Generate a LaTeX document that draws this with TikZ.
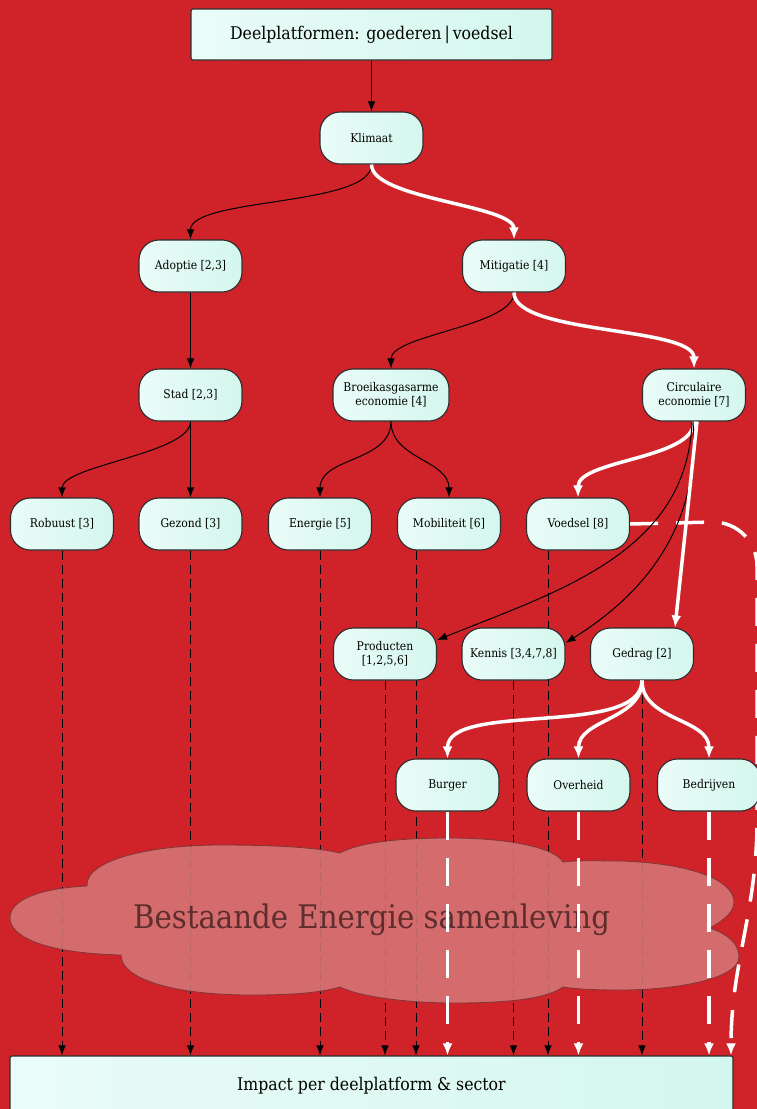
\documentclass[tikz,border=0pt]{standalone}
\usepackage{fontspec}
\setmainfont{DejaVu Serif Condensed}
\usetikzlibrary{arrows.meta, calc}

\definecolor{achtergrond}{RGB}{207,34,41}
\definecolor{mintA}{RGB}{234,252,248}
\definecolor{mintB}{RGB}{212,247,237}
\definecolor{rand}{RGB}{45,45,45}
\definecolor{wolk}{RGB}{213,118,118}
\definecolor{wolkrand}{RGB}{125,55,55}
\definecolor{wolktekst}{RGB}{95,45,45}

\pgfdeclarelayer{achter}
\pgfsetlayers{achter,main}

\tikzset{
  stap/.style={draw=rand, line width=1.1pt, rounded corners=20pt, left color=mintA, right color=mintB,
    minimum width=103pt, minimum height=52pt, align=center, font=\fontsize{12}{14}\selectfont},
  kader/.style={draw=rand, line width=1.1pt, rounded corners=2pt, left color=mintA, right color=mintB,
    font=\fontsize{17.5}{20}\selectfont},
  pijl/.style={-{Latex[length=10pt,width=7.5pt]}, line width=1pt},
  witpijl/.style={-{Latex[length=12pt,width=10pt]}, line width=3.5pt, white},
  stippel/.style={pijl, dash pattern=on 9pt off 5pt},
  witstippel/.style={witpijl, dash pattern=on 28pt off 18pt}
}

\begin{document}
\begin{tikzpicture}[x=1pt, y=-1pt]
  \useasboundingbox (0,0) rectangle (757,1109);

  % knopen
  \node[kader, minimum width=361pt, minimum height=51pt] (kop) at (371.5,34.5) {Deelplatformen: goederen\,|\,voedsel};
  \node[stap] (klimaat) at (371.5,138) {Klimaat};
  \node[stap] (adoptie) at (190.5,266) {Adoptie [2,3]};
  \node[stap] (mitigatie) at (514,266) {Mitigatie [4]};
  \node[stap] (stad) at (190.5,395) {Stad [2,3]};
  \node[stap, minimum width=116pt] (broeikas) at (391,395) {Broeikasgasarme\\economie [4]};
  \node[stap] (circulair) at (694,395) {Circulaire\\economie [7]};
  \node[stap] (robuust) at (62,524) {Robuust [3]};
  \node[stap] (gezond) at (190.5,524) {Gezond [3]};
  \node[stap] (energie) at (320,524) {Energie [5]};
  \node[stap] (mobiliteit) at (449,524) {Mobiliteit [6]};
  \node[stap] (voedsel) at (578,524) {Voedsel [8]};
  \node[stap] (producten) at (385,654) {Producten\\{[1,2,5,6]}};
  \node[stap] (kennis) at (513.5,654) {Kennis [3,4,7,8]};
  \node[stap] (gedrag) at (642,654) {Gedrag [2]};
  \node[stap] (burger) at (447.5,785) {Burger};
  \node[stap] (overheid) at (578.5,785) {Overheid};
  \node[stap] (bedrijven) at (709,785) {Bedrijven};
  \node[kader, minimum width=723pt, minimum height=60pt] (impact) at (371.5,1086) {Impact per deelplatform \& sector};

  \begin{pgfonlayer}{achter}
  \fill[achtergrond] (0,0) rectangle (757,1109);

  % stippellijnen naar impact
  \draw[stippel] (robuust.south) -- (robuust.south |- impact.north);
  \draw[stippel] (gezond.south) -- (gezond.south |- impact.north);
  \draw[stippel] (energie.south) -- (energie.south |- impact.north);
  \draw[stippel] ([xshift=-33pt]mobiliteit.south) -- ([xshift=-33pt]mobiliteit.south |- impact.north);
  \draw[stippel] (producten.south) -- (producten.south |- impact.north);
  \draw[stippel] (kennis.south) -- (kennis.south |- impact.north);
  \draw[stippel] ([xshift=-30pt]voedsel.south) -- ([xshift=-30pt]voedsel.south |- impact.north);
  \draw[stippel] (gedrag.south) -- (gedrag.south |- impact.north);

  % wolk
  \draw[wolkrand, fill=wolk, fill opacity=0.88, line width=0.8pt]
    (121,955) .. controls (40,953) and (10,935) .. (10,918)
    .. controls (10,898) and (45,888) .. (87,886)
    .. controls (85,860) and (150,845) .. (220,845)
    .. controls (280,845) and (320,848) .. (340,853)
    .. controls (360,842) and (400,838) .. (450,838)
    .. controls (510,838) and (555,848) .. (563,862)
    .. controls (580,860) and (600,861) .. (620,861)
    .. controls (690,863) and (734,880) .. (734,902)
    .. controls (734,914) and (720,922) .. (710,928)
    .. controls (730,935) and (739,945) .. (739,957)
    .. controls (739,978) and (680,990) .. (620,990)
    .. controls (595,990) and (575,989) .. (563,987)
    .. controls (545,1000) and (500,1003) .. (454,1003)
    .. controls (400,1003) and (355,995) .. (340,987)
    .. controls (320,993) and (290,995) .. (251,995)
    .. controls (170,995) and (121,978) .. (121,955) -- cycle;
  \node[text=wolktekst, font=\fontsize{32.5}{36}\selectfont] (wolktekst) at (371.5,920) {Bestaande Energie samenleving};

  % witte stippellijnen
  \draw[witstippel] (burger.south) -- (burger.south |- impact.north);
  \draw[witstippel] (overheid.south) -- (overheid.south |- impact.north);
  \draw[witstippel] (bedrijven.south) -- (bedrijven.south |- impact.north);
  \draw[witstippel] (voedsel.east) -- (713,522) to[out=0,in=90] (757,566) -- (757,820)
    to[out=-90,in=90] (impact.north -| 731,0);
  \end{pgfonlayer}

  % verbindingen
  \draw[pijl] (kop) -- (klimaat);
  \draw[pijl] (klimaat) to[out=-90,in=90,looseness=0.55] (adoptie);
  \draw[witpijl] (klimaat) to[out=-90,in=90,looseness=0.55] (mitigatie);
  \draw[pijl] (adoptie) -- (stad);
  \draw[pijl] (mitigatie) to[out=-90,in=90,looseness=0.6] (broeikas);
  \draw[witpijl] (mitigatie) to[out=-90,in=90,looseness=0.55] (circulair);
  \draw[pijl] (stad) to[out=-90,in=90,looseness=0.55] (robuust);
  \draw[pijl] (stad) -- (gezond);
  \draw[pijl] (broeikas) to[out=-90,in=90] (energie);
  \draw[pijl] (broeikas) to[out=-90,in=90] (mobiliteit);
  \draw[witpijl] (circulair) to[out=-90,in=90,looseness=0.7] (voedsel);
  \draw[pijl] ([xshift=-2pt]circulair.south) to[out=-92,in=22] (producten.15);
  \draw[pijl] ([xshift=-1pt]circulair.south) to[out=-86,in=32] (kennis.12);
  \draw[witpijl] ([xshift=3pt]circulair.south) -- ([xshift=33pt]gedrag.north);
  \draw[witpijl] (gedrag) to[out=-90,in=90,looseness=0.7] (burger);
  \draw[witpijl] (gedrag) to[out=-90,in=90] (overheid);
  \draw[witpijl] (gedrag) to[out=-90,in=90] (bedrijven);
\end{tikzpicture}
\end{document}
